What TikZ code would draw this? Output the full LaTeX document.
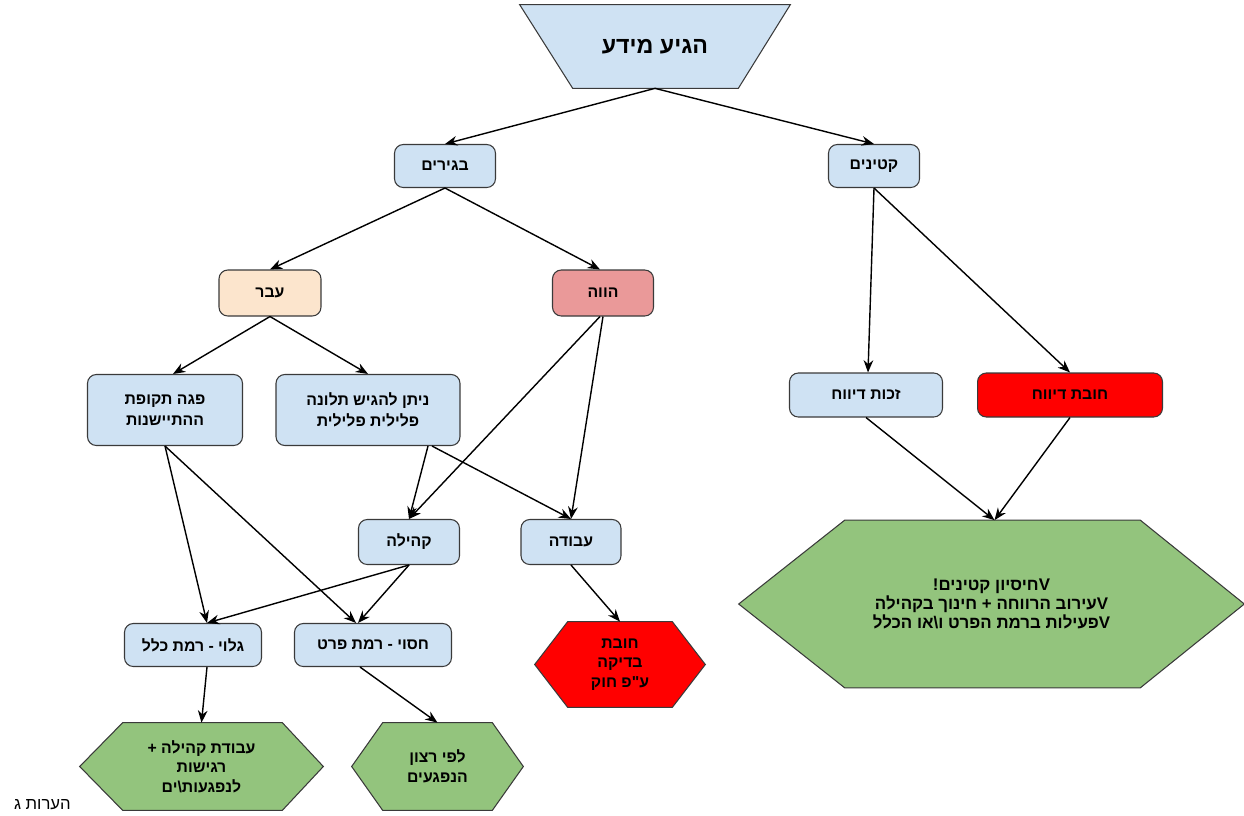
\documentclass[tikz,border=0pt]{standalone}
\usepackage{fontspec}
\setmainfont{Liberation Sans}
\newfontfamily\heb[Script=Hebrew,Ligatures=TeXOff]{Liberation Sans}
\TeXXeTstate=1
\usetikzlibrary{arrows.meta,calc,backgrounds}
\newcommand{\hebline}[1]{\beginR #1\endR}
\definecolor{boxblue}{HTML}{CFE2F3}
\definecolor{boxpeach}{HTML}{FCE5CD}
\definecolor{boxrose}{HTML}{EA9999}
\definecolor{boxred}{HTML}{FF0000}
\definecolor{hexgreen}{HTML}{93C47D}
\definecolor{linegray}{HTML}{3A3A3A}

\tikzset{
  box/.style={draw=linegray, line width=0.6pt, rounded corners=5pt, fill=boxblue,
    align=center, inner sep=0pt, font=\heb\bfseries\fontsize{9}{12}\selectfont},
  hexbox/.style={inner sep=0pt, align=center, font=\heb\bfseries\fontsize{9}{11.2}\selectfont},
  hexline/.style={draw=linegray, line width=0.6pt},
  arr/.style={-{Stealth[length=7pt,width=5.5pt]}, line width=0.8pt},
}

\begin{document}
\begin{tikzpicture}[x=0.02cm,y=-0.02cm]
\useasboundingbox (0,0) rectangle (1244,815);

%% top of the tree
\node[hexbox, minimum width=5.4cm, minimum height=1.66cm,
  font=\heb\bfseries\fontsize{13.2}{16}\selectfont] (info) at (655,46.5) {\hebline{הגיע מידע}};

\node[box, minimum width=2.02cm, minimum height=0.86cm] (adults) at (445,166) {\hebline{בגירים}};
\node[box, minimum width=1.82cm, minimum height=0.86cm] (minors) at (874,166) {\hebline{קטינים}};

%% adults
\node[box, fill=boxpeach, minimum width=2.04cm, minimum height=0.92cm] (past) at (270,293) {\hebline{עבר}};
\node[box, fill=boxrose, minimum width=2.02cm, minimum height=0.92cm] (present) at (603,293) {\hebline{הווה}};

\node[box, minimum width=3.1cm, minimum height=1.42cm] (expired) at (165,410)
  {\hebline{פגה תקופת}\\\hebline{ההתיישנות}};
\node[box, minimum width=3.68cm, minimum height=1.42cm] (complaint) at (368,410)
  {\hebline{ניתן להגיש תלונה}\\\hebline{פלילית פלילית}};

\node[box, minimum width=2.02cm, minimum height=0.9cm] (community) at (409,542) {\hebline{קהילה}};
\node[box, minimum width=2.0cm, minimum height=0.9cm] (work) at (571,542) {\hebline{עבודה}};

\node[box, minimum width=2.74cm, minimum height=0.86cm] (open) at (193,645) {\hebline{גלוי - רמת כלל}};
\node[box, minimum width=3.14cm, minimum height=0.86cm] (secret) at (373,645) {\hebline{חסוי - רמת פרט}};

\node[hexbox, minimum width=3.4cm, minimum height=1.7cm] (check) at (620,664.5)
  {\hebline{חובת}\\\hebline{בדיקה}\\\hebline{ע"פ חוק}};
\node[hexbox, minimum width=4.86cm, minimum height=1.74cm] (service) at (201.5,766.5)
  {\hebline{עבודת קהילה +}\\\hebline{רגישות}\\\hebline{לנפגעות\textbackslash ים}};
\node[hexbox, minimum width=3.42cm, minimum height=1.74cm] (victims) at (437.5,766.5)
  {\hebline{לפי רצון}\\\hebline{הנפגעים}};

%% minors
\node[box, minimum width=3.06cm, minimum height=0.88cm] (right) at (866,395) {\hebline{זכות דיווח}};
\node[box, fill=boxred, minimum width=3.7cm, minimum height=0.88cm] (duty) at (1070,395) {\hebline{חובת דיווח}};

\node[hexbox, minimum width=10.1cm, minimum height=3.34cm,
  font=\heb\bfseries\fontsize{9.6}{10.8}\selectfont] (secrecy) at (991.5,604)
  {\hebline{V\kern0pt חיסיון קטינים\kern0pt!}\\
   \hebline{V\kern0pt עירוב הרווחה + חינוך בקהילה}\\
   \hebline{V\kern0pt פעילות ברמת הפרט ו\textbackslash או הכלל}};

\node[font=\heb\fontsize{9.5}{11}\selectfont, anchor=east] (notes) at (77,805) {\hebline{הערות ג}};

%% shapes behind the texts
\begin{scope}[on background layer]
  \draw[hexline, fill=boxblue] (info.north west) -- (info.north east)
    -- ($(info.south east)+(-52,0)$) -- ($(info.south west)+(53,0)$) -- cycle;
  \draw[hexline, fill=boxred] (check.west) -- ($(check.north west)+(33,0)$) -- ($(check.north east)+(-33,0)$)
    -- (check.east) -- ($(check.south east)+(-33,0)$) -- ($(check.south west)+(33,0)$) -- cycle;
  \draw[hexline, fill=hexgreen] (service.west) -- ($(service.north west)+(43,0)$) -- ($(service.north east)+(-41,0)$)
    -- (service.east) -- ($(service.south east)+(-41,0)$) -- ($(service.south west)+(43,0)$) -- cycle;
  \draw[hexline, fill=hexgreen] (victims.west) -- ($(victims.north west)+(31,0)$) -- ($(victims.north east)+(-31,0)$)
    -- (victims.east) -- ($(victims.south east)+(-31,0)$) -- ($(victims.south west)+(31,0)$) -- cycle;
  \draw[hexline, fill=hexgreen] (secrecy.west) -- ($(secrecy.north west)+(106,0)$) -- ($(secrecy.north east)+(-104,0)$)
    -- (secrecy.east) -- ($(secrecy.south east)+(-104,0)$) -- ($(secrecy.south west)+(106,0)$) -- cycle;
\end{scope}

%% connectors
\draw[arr] (info.south) -- (adults.north);
\draw[arr] (info.south) -- (minors.north);
\draw[arr] (adults.south) -- (past.north);
\draw[arr] (adults.south) -- ($(present.north)+(-3,0)$);
\draw[arr] (past.south) -- ($(expired.north)+(8,0)$);
\draw[arr] (past.south) -- (complaint.north);
\draw[arr] ($(present.south)+(-3,0)$) -- (community.north);
\draw[arr] (present.south) -- (work.north);
\draw[arr] ($(complaint.south)+(60,0)$) -- (community.north);
\draw[arr] ($(complaint.south)+(64,0)$) -- (work.north);
\draw[arr] (expired.south) -- ($(open.north)+(14,0)$);
\draw[arr] (expired.south) -- ($(secret.north)+(-17,0)$);
\draw[arr] (community.south) -- ($(open.north)+(14,0)$);
\draw[arr] (community.south) -- ($(secret.north)+(-15,0)$);
\draw[arr] (work.south) -- (check.north);
\draw[arr] ($(open.south)+(14,0)$) -- (service.north);
\draw[arr] ($(secret.south)+(-13,0)$) -- (victims.north);
\draw[arr] (minors.south) -- ($(right.north)+(2,0)$);
\draw[arr] (minors.south) -- (duty.north);
\draw[arr] (right.south) -- ($(secrecy.north)+(3,0)$);
\draw[arr] (duty.south) -- ($(secrecy.north)+(3,0)$);
\end{tikzpicture}
\end{document}
